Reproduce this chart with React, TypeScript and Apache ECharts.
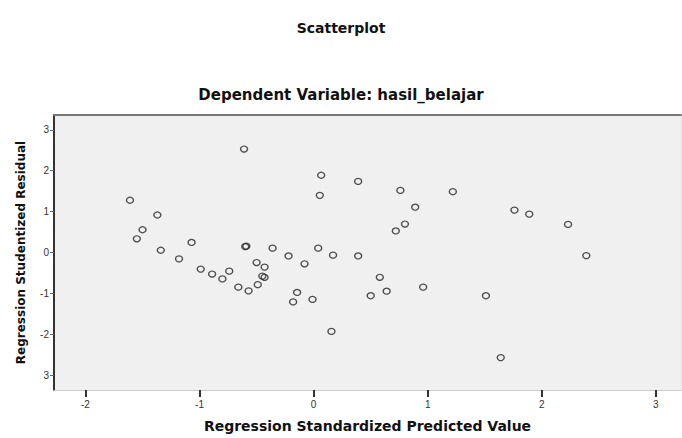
import React, { useEffect, useRef } from "react";
import * as echarts from "echarts";

const chartTitle = "Scatterplot";
const chartSubtitle = "Dependent Variable: hasil_belajar";
const xAxisTitle = "Regression Standardized Predicted Value";
const yAxisTitle = "Regression Studentized Residual";

const xTickValues = [-2, -1, 0, 1, 2, 3];
const yTickValues = [-3, -2, -1, 0, 1, 2, 3];

const predictedValues = [
  -1.61, -1.55, -1.5, -1.37, -1.34, -1.18, -1.07, -0.99, -0.89, -0.8,
  -0.74, -0.66, -0.57, -0.61, -0.6, -0.59, -0.5, -0.43, -0.45, -0.43,
  -0.49, -0.36, -0.22, -0.08, -0.145, -0.18, -0.01, 0.04, 0.17, 0.066,
  0.054, 0.156, 0.39, 0.76, 1.22, 0.89, 0.8, 0.72, 1.76, 1.89,
  2.23, 2.39, 0.39, 0.58, 0.5, 0.64, 0.96, 1.51, 1.64,
];
const studentizedResiduals = [
  1.28, 0.34, 0.56, 0.92, 0.06, -0.15, 0.25, -0.4, -0.52, -0.64,
  -0.45, -0.84, -0.93, 2.53, 0.15, 0.16, -0.24, -0.35, -0.57, -0.6,
  -0.78, 0.11, -0.08, -0.27, -0.97, -1.2, -1.14, 0.11, -0.06, 1.89,
  1.4, -1.92, 1.74, 1.52, 1.49, 1.11, 0.7, 0.53, 1.04, 0.94,
  0.69, -0.07, -0.08, -0.6, -1.05, -0.94, -0.84, -1.05, -2.56,
];

const FONT = "DejaVu Sans";

export default function App() {
  const ref = useRef<HTMLDivElement>(null);

  useEffect(() => {
    if (!ref.current) return;
    const chart = echarts.init(ref.current, null, { renderer: "svg" });
    const points = predictedValues.map((x, i) => [x, studentizedResiduals[i]]);
    chart.setOption({
      animation: false,
      backgroundColor: "#ffffff",
      title: [
        {
          text: chartTitle,
          left: "center",
          top: 16,
          textStyle: { fontFamily: FONT, fontSize: 14, fontWeight: "bold", color: "#111", lineHeight: 14 },
        },
        {
          text: chartSubtitle,
          left: "center",
          top: 82,
          textStyle: { fontFamily: FONT, fontSize: 15, fontWeight: "bold", color: "#111", lineHeight: 15 },
        },
      ],
      grid: {
        left: 54,
        right: 1,
        top: 115,
        bottom: 45,
        show: true,
        backgroundColor: "#f0f0f0",
        borderWidth: 0,
      },
      xAxis: [
        {
          type: "value",
          min: -2.276,
          max: 3.22,
          position: "bottom",
          name: xAxisTitle,
          nameLocation: "middle",
          nameGap: 29,
          nameTextStyle: { fontFamily: FONT, fontSize: 14, fontWeight: "bold", color: "#111" },
          axisLine: { show: true, onZero: false, lineStyle: { color: "#cccccc", width: 1 } },
          axisTick: {
            show: true,
            customValues: xTickValues,
            length: 7,
            lineStyle: { color: "#333", width: 2 },
          },
          axisLabel: {
            customValues: xTickValues,
            margin: 9,
            fontFamily: "Liberation Sans",
            fontSize: 10,
            color: "#333",
          },
          splitLine: { show: false },
        },
        {
          type: "value",
          min: -2.276,
          max: 3.22,
          position: "top",
          axisLine: { show: true, onZero: false, lineStyle: { color: "#777", width: 2 } },
          axisTick: { show: false },
          axisLabel: { show: false },
          splitLine: { show: false },
        },
      ],
      yAxis: [
        {
          type: "value",
          min: -3.35,
          max: 3.36,
          position: "left",
          name: yAxisTitle,
          nameLocation: "middle",
          nameGap: 27,
          nameTextStyle: { fontFamily: FONT, fontSize: 12, fontWeight: "bold", color: "#111" },
          axisLine: { show: true, onZero: false, lineStyle: { color: "#333", width: 2 } },
          axisTick: {
            show: true,
            customValues: yTickValues,
            length: 4,
            lineStyle: { color: "#666", width: 1 },
          },
          axisLabel: {
            customValues: yTickValues,
            margin: 5,
            fontFamily: "Liberation Sans",
            fontSize: 10,
            color: "#333",
            formatter: (v: number) => (v === -3 ? "3" : String(v)),
          },
          splitLine: { show: false },
        },
        {
          type: "value",
          min: -3.35,
          max: 3.36,
          position: "right",
          axisLine: { show: true, onZero: false, lineStyle: { color: "#e4e4e4", width: 1 } },
          axisTick: { show: false },
          axisLabel: { show: false },
          splitLine: { show: false },
        },
      ],
      series: [
        {
          type: "scatter",
          xAxisIndex: 0,
          yAxisIndex: 0,
          data: points,
          symbol: "circle",
          symbolSize: [7, 6],
          itemStyle: { color: "rgba(0,0,0,0)", borderColor: "#222", borderWidth: 1.3 },
        },
      ],
    });
    return () => chart.dispose();
  }, []);

  return (
    <div
      ref={ref}
      style={{ position: "fixed", left: 0, top: 0, width: 682, height: 438 }}
    />
  );
}
